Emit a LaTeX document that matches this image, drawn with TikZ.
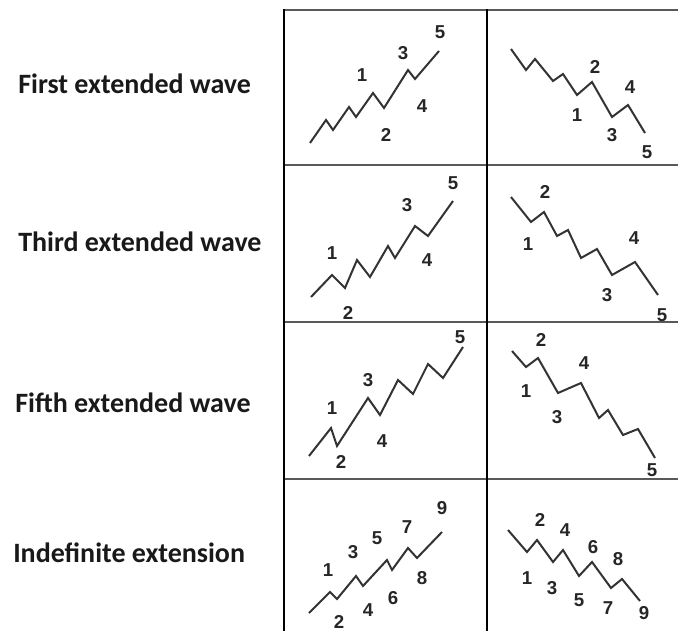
\documentclass[tikz,border=0pt]{standalone}
\usepackage{fontspec}
\setmainfont{Carlito}
\newfontfamily\numfont{Liberation Sans}
\begin{document}
\begin{tikzpicture}[x=0.75pt,y=-0.75pt,
  wave/.style={draw=black!80, line width=1.5pt, line join=miter},
  hgrid/.style={draw=black!65, line width=2pt},
  vgrid/.style={draw=black, line width=1.3pt},
  num/.style={font=\numfont\bfseries\fontsize{14}{14}\selectfont, text=black!85, inner sep=0pt},
  rowlabel/.style={font=\bfseries\fontsize{21}{21}\selectfont, text=black!90, anchor=west, inner sep=0pt}]
\useasboundingbox (0,0) rectangle (678,631);
\fill[white] (0,0) rectangle (678,631);
% grid
\draw[hgrid] (284,10) -- (678,10);
\draw[hgrid] (284,165) -- (678,165);
\draw[hgrid] (284,322) -- (678,322);
\draw[hgrid] (284,479) -- (678,479);
\draw[vgrid] (284,9) -- (284,631);
\draw[vgrid] (487,9) -- (487,631);
% row labels
\node[rowlabel] (l1) at (18,84) {First extended wave};
\node[rowlabel] (l2) at (18,242) {Third extended wave};
\node[rowlabel] (l3) at (15,403) {Fifth extended wave};
\node[rowlabel] (l4) at (13,553) {Indefinite extension};
% row 1
\draw[wave] (310,143) -- (326,120) -- (333,130) -- (349,107) -- (356,117) -- (373,93) -- (384,108) -- (408,70) -- (415,79) -- (439,51);
\node[num] (a1) at (362,75) {1};
\node[num] (a2) at (386,135) {2};
\node[num] (a3) at (403,53) {3};
\node[num] (a4) at (422,106) {4};
\node[num] (a5) at (440,32) {5};
\draw[wave] (511,49) -- (526,70) -- (535,59) -- (553,81) -- (563,74) -- (577,95) -- (592,82) -- (612,117) -- (628,105) -- (645,133);
\node[num] (b1) at (577,115) {1};
\node[num] (b2) at (595,67) {2};
\node[num] (b3) at (612,135) {3};
\node[num] (b4) at (630,87) {4};
\node[num] (b5) at (647,152) {5};
% row 2
\draw[wave] (311,297) -- (332,275) -- (345,288) -- (357,260) -- (370,277) -- (388,246) -- (395,258) -- (415,226) -- (428,236) -- (453,201);
\node[num] (c1) at (332,253) {1};
\node[num] (c2) at (348,313) {2};
\node[num] (c3) at (407,205) {3};
\node[num] (c4) at (427,260) {4};
\node[num] (c5) at (453,183) {5};
\draw[wave] (511,197) -- (531,222) -- (544,212) -- (557,236) -- (568,230) -- (581,258) -- (597,249) -- (612,275) -- (635,262) -- (658,295);
\node[num] (d1) at (528,244) {1};
\node[num] (d2) at (545,192) {2};
\node[num] (d3) at (607,295) {3};
\node[num] (d4) at (634,238) {4};
\node[num] (d5) at (662,315) {5};
% row 3
\draw[wave] (309,456) -- (331,428) -- (337,446) -- (368,398) -- (380,415) -- (398,380) -- (413,394) -- (428,364) -- (443,378) -- (463,347);
\node[num] (e1) at (332,408) {1};
\node[num] (e2) at (341,462) {2};
\node[num] (e3) at (368,380) {3};
\node[num] (e4) at (382,441) {4};
\node[num] (e5) at (460,337) {5};
\draw[wave] (512,351) -- (526,367) -- (538,358) -- (558,393) -- (581,383) -- (599,418) -- (608,410) -- (623,435) -- (638,429) -- (655,458);
\node[num] (f1) at (526,391) {1};
\node[num] (f2) at (541,340) {2};
\node[num] (f3) at (557,417) {3};
\node[num] (f4) at (584,363) {4};
\node[num] (f5) at (652,470) {5};
% row 4
\draw[wave] (309,613) -- (330,592) -- (337,599) -- (356,576) -- (363,586) -- (387,560) -- (392,570) -- (408,548) -- (417,558) -- (442,532);
\node[num] (g1) at (328,570) {1};
\node[num] (g2) at (339,622) {2};
\node[num] (g3) at (353,552) {3};
\node[num] (g4) at (368,610) {4};
\node[num] (g5) at (377,538) {5};
\node[num] (g6) at (393,598) {6};
\node[num] (g7) at (407,527) {7};
\node[num] (g8) at (422,578) {8};
\node[num] (g9) at (442,508) {9};
\draw[wave] (508,530) -- (527,552) -- (537,540) -- (553,562) -- (563,550) -- (579,576) -- (592,562) -- (611,588) -- (622,579) -- (640,601);
\node[num] (h1) at (527,578) {1};
\node[num] (h2) at (540,520) {2};
\node[num] (h3) at (552,588) {3};
\node[num] (h4) at (565,530) {4};
\node[num] (h5) at (579,600) {5};
\node[num] (h6) at (593,547) {6};
\node[num] (h7) at (608,608) {7};
\node[num] (h8) at (618,559) {8};
\node[num] (h9) at (644,613) {9};
\end{tikzpicture}
\end{document}
